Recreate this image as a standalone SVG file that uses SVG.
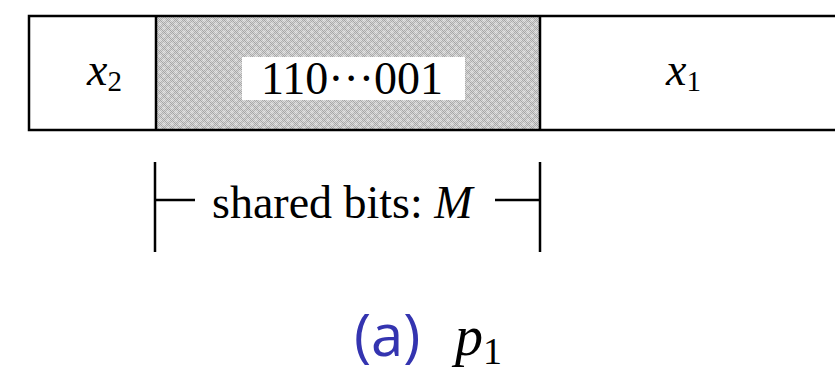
<svg xmlns="http://www.w3.org/2000/svg" width="835" height="387" viewBox="0 0 835 387">
<style>
.ser{font-family:"Liberation Serif","Times New Roman",serif;fill:#000}
.it{font-style:italic}
.ln{stroke:#000;stroke-width:2.5;fill:none}
.cap{font-family:"Open Sans","DejaVu Sans",sans-serif;fill:#3434b0}
</style>
<defs>
<pattern id="chk" width="2" height="2" patternUnits="userSpaceOnUse">
<rect width="2" height="2" fill="#d4d4d4"/>
<rect width="1" height="1" fill="#a4a4a4"/>
<rect x="1" y="1" width="1" height="1" fill="#a4a4a4"/>
</pattern>
<radialGradient id="spot">
<stop offset="0" stop-color="#fff" stop-opacity="0.55"/>
<stop offset="1" stop-color="#fff" stop-opacity="0"/>
</radialGradient>
<pattern id="blot" width="8" height="8" patternUnits="userSpaceOnUse">
<circle cx="0" cy="0" r="3" fill="url(#spot)"/>
<circle cx="8" cy="0" r="3" fill="url(#spot)"/>
<circle cx="0" cy="8" r="3" fill="url(#spot)"/>
<circle cx="8" cy="8" r="3" fill="url(#spot)"/>
<circle cx="4" cy="4" r="3" fill="url(#spot)"/>
</pattern>
</defs>
<g id="field-x2">
<rect x="29" y="16" width="127" height="114" fill="#fff"/>
<text class="ser it" x="87" y="85" font-size="46">x<tspan font-style="normal" font-size="29" dy="6">2</tspan></text>
</g>
<g id="field-shared">
<rect x="156" y="16" width="384" height="114" fill="url(#chk)"/>
<rect x="156" y="16" width="384" height="114" fill="url(#blot)"/>
<rect x="242" y="57" width="223" height="43" fill="#fff"/>
<text class="ser" x="352" y="94" font-size="46" text-anchor="middle">110···001</text>
</g>
<g id="field-x1">
<text class="ser it" x="666" y="85" font-size="46">x<tspan font-style="normal" font-size="29" dy="6">1</tspan></text>
</g>
<g id="frame">
<path class="ln" d="M835 16 H29 V130 H835 M156 16 V130 M540 16 V130"/>
</g>
<g id="connectors">
<path class="ln" d="M155 162 V252 M155 200 H195 M495 200 H540 M540 162 V252"/>
</g>
<g id="label-shared">
<text class="ser" x="212" y="218" font-size="46">shared bits: <tspan class="it">M</tspan></text>
</g>
<g id="caption">
<text class="cap" x="354" y="356" font-size="58" font-weight="500">(a)</text>
<text class="ser it" x="455" y="355" font-size="56">p<tspan font-style="normal" font-size="38" dy="9">1</tspan></text>
</g>
</svg>
